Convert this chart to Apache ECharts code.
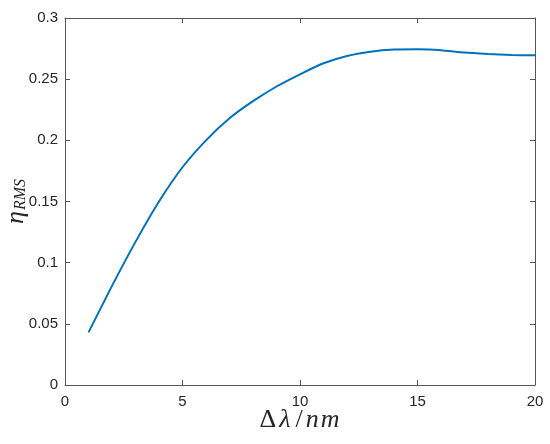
<!DOCTYPE html>
<html>
<head>
<meta charset="utf-8">
<script src="https://cdn.jsdelivr.net/npm/echarts@6/dist/echarts.min.js"></script>
<style>
  html, body { margin: 0; padding: 0; background: #fff; }
  #chart { width: 550px; height: 444px; }
</style>
</head>
<body>
<div id="chart"></div>
<script>
// Δλ (nm) and η_RMS
const dLambda = [1, 2, 3, 4, 5, 6, 7, 8, 9, 10, 11, 12, 13, 14, 15, 16, 17, 18, 19, 20]
const etaRms = [0.043, 0.081, 0.117, 0.150, 0.178, 0.200, 0.218, 0.232, 0.244, 0.254,
  0.263, 0.269, 0.2725, 0.2743, 0.2745, 0.2737, 0.2717, 0.2706, 0.2698, 0.2695]

const axCol = '#555'
const txt = '#262626'
const lbl = { color: txt, fontSize: 15, fontFamily: 'Liberation Sans' }
const tick = { inside: true, length: 5, lineStyle: { color: axCol } }
const line = { show: true, onZero: false, lineStyle: { color: axCol, width: 1 } }
const serif = (size, italic, pad) => ({
  fontSize: size, fontFamily: 'Liberation Serif', color: txt,
  fontStyle: italic ? 'italic' : 'normal', padding: pad || 0
})

const chart = echarts.init(document.getElementById('chart'))
chart.setOption({
  animation: false,
  grid: { left: 65, right: 15, top: 18, bottom: 59, containLabel: false, outerBoundsMode: 'none' },
  xAxis: [
    {
      type: 'value', min: 0, max: 20, interval: 5,
      axisLine: line, axisTick: tick, splitLine: { show: false },
      axisLabel: { ...lbl, margin: 9 },
      name: '{d|Δ}{l|λ}{s|/}{n|n}{n|m}', nameLocation: 'middle', nameGap: 22, nameMoveOverlap: false,
      nameTextStyle: {
        rich: {
          d: serif(26, false, [0, 2, 0, 0]),
          l: serif(26, true, [0, 3, 0, 1]),
          s: serif(26, false, [0, 2, 0, 2]),
          n: serif(26, true, [0, 1, 0, 1])
        }
      }
    },
    {
      type: 'value', position: 'top', min: 0, max: 20, interval: 5,
      axisLine: line, axisTick: tick, axisLabel: { show: false }, splitLine: { show: false }
    }
  ],
  yAxis: [
    {
      type: 'value', min: 0, max: 0.3, interval: 0.05,
      axisLine: line, axisTick: tick, splitLine: { show: false },
      axisLabel: { ...lbl, margin: 7 },
      name: '{e|η}{s|RMS}', nameLocation: 'middle', nameGap: 36, nameRotate: 90, nameMoveOverlap: false,
      nameTextStyle: {
        rich: {
          e: serif(26, true, [0, 1, 0, 0]),
          s: { ...serif(16, true, [10, 0, 0, 0]), verticalAlign: 'bottom' }
        }
      }
    },
    {
      type: 'value', position: 'right', min: 0, max: 0.3, interval: 0.05,
      axisLine: line, axisTick: tick, axisLabel: { show: false }, splitLine: { show: false }
    }
  ],
  series: [
    {
      type: 'line',
      data: dLambda.map((x, i) => [x, etaRms[i]]),
      showSymbol: false, smooth: 0.2,
      lineStyle: { color: '#0072BD', width: 2 }
    },
    // empty series so the top/right frame axes are drawn
    { type: 'line', xAxisIndex: 1, yAxisIndex: 1, data: [], silent: true }
  ]
})
</script>
</body>
</html>
